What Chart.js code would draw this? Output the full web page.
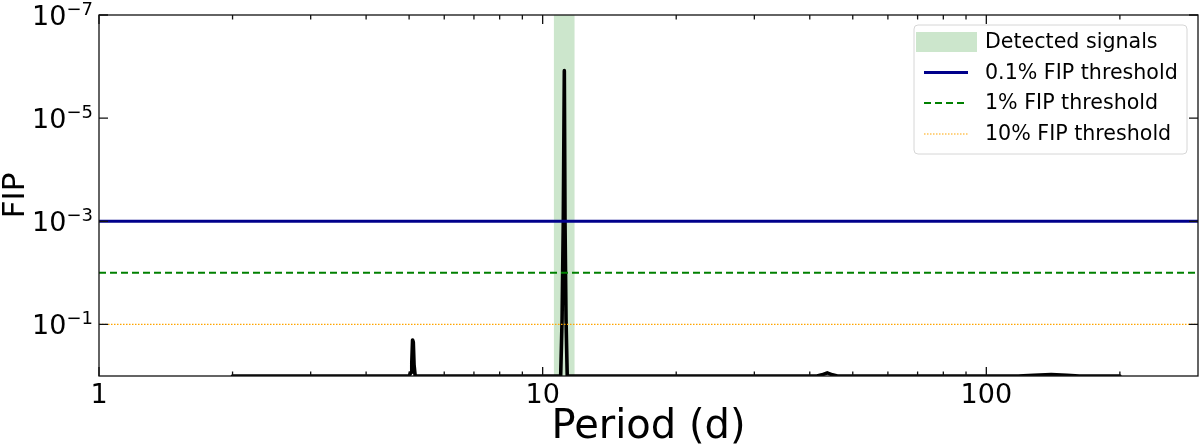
<!DOCTYPE html>
<html><head><meta charset="utf-8">
<script src="https://cdn.jsdelivr.net/npm/chart.js@4/dist/chart.umd.min.js"></script>
<style>html,body{margin:0;padding:0;background:#fff;}canvas{display:block;}</style>
</head><body>
<canvas id="c" width="1200" height="448"></canvas>
<script>
// ---- data ----
const periods   = [2.0, 5.00, 5.05, 5.07, 5.09, 5.11, 5.13, 5.16, 10.98, 11.06, 11.13, 11.19, 11.23, 11.29, 11.36, 41.5, 42.6, 43.8, 45.0, 46.2, 118, 128, 140, 152, 162, 200];
const fipValues = [1.0, 1.00, 0.85, 0.55, 0.20, 0.22, 0.60, 1.00, 1.00, 0.08, 1e-3, 1.2e-6, 1e-3, 0.08, 1.00, 1.00, 0.95, 0.87, 0.95, 1.00, 1.00, 0.97, 0.94, 0.97, 1.00, 1.00];
const thresholdFips   = [1e-3, 1e-2, 1e-1];
const thresholdLabels = ['0.1% FIP threshold', '1% FIP threshold', '10% FIP threshold'];
const detectedBand  = [10.6, 11.8];
const detectedLabel = 'Detected signals';
const xRange = [1, 300];
const yRange = [1e-7, 1];
const xMajorTicks = [1, 10, 100];
const xMinorTicks = [2, 3, 4, 5, 6, 7, 8, 9, 20, 30, 40, 50, 60, 70, 80, 90, 200];
const yMajorTicks = [1e-7, 1e-5, 1e-3, 1e-1];
const xTitle = 'Period (d)';
const yTitle = 'FIP';

// ---- styles ----
const thrStyles = [
  {color: '#00008B', width: 3,   dash: []},
  {color: '#008000', width: 2,   dash: [7, 4]},
  {color: '#FFA500', width: 1.2, dash: [1.5, 1.5]}
];
const FONT = "'DejaVu Sans', sans-serif";

const datasets = thresholdFips.map((f, i) => ({
  label: thresholdLabels[i],
  data: xRange.map(x => ({x: x, y: f})),
  borderColor: thrStyles[i].color,
  borderWidth: thrStyles[i].width,
  borderDash: thrStyles[i].dash,
  pointRadius: 0, fill: false
}));
datasets.push({
  label: 'FIP periodogram',
  data: periods.map((p, i) => ({x: p, y: fipValues[i]})),
  borderColor: '#000', borderWidth: 3.6,
  borderJoinStyle: 'round', borderCapStyle: 'round',
  pointRadius: 0, tension: 0, fill: false
});

const bandPlugin = {
  id: 'band',
  beforeDatasetsDraw(chart) {
    const {ctx, chartArea: a, scales: {x}} = chart;
    const x0 = x.getPixelForValue(detectedBand[0]);
    const x1 = x.getPixelForValue(detectedBand[1]);
    ctx.save();
    ctx.fillStyle = 'rgba(0,128,0,0.2)';
    ctx.fillRect(x0, a.top, x1 - x0, a.bottom - a.top);
    ctx.restore();
  }
};

const framePlugin = {
  id: 'frame',
  afterDatasetsDraw(chart) {
    const {ctx, chartArea: a, scales: {x, y}} = chart;
    ctx.save();
    ctx.strokeStyle = '#111';
    ctx.lineWidth = 1.3;
    ctx.strokeRect(a.left, a.top, a.right - a.left, a.bottom - a.top);
    ctx.beginPath();
    const xt = (v, len) => {
      const px = x.getPixelForValue(v);
      ctx.moveTo(px, a.bottom); ctx.lineTo(px, a.bottom - len);
      ctx.moveTo(px, a.top); ctx.lineTo(px, a.top + len);
    };
    xMajorTicks.forEach(v => xt(v, 9));
    xMinorTicks.forEach(v => xt(v, 4.5));
    yMajorTicks.forEach(v => {
      const py = y.getPixelForValue(v);
      ctx.moveTo(a.left, py); ctx.lineTo(a.left + 9, py);
      ctx.moveTo(a.right, py); ctx.lineTo(a.right - 9, py);
    });
    ctx.stroke();
    // y tick labels as 10 with a superscript exponent
    ctx.fillStyle = '#000';
    ctx.textBaseline = 'alphabetic';
    ctx.textAlign = 'left';
    yMajorTicks.forEach(v => {
      const py = y.getPixelForValue(v);
      const e = Math.round(Math.log10(v));
      const exp = (e < 0 ? '\u2212' : '') + Math.abs(e);
      ctx.font = '18px ' + FONT;
      const ew = ctx.measureText(exp).width;
      ctx.font = '27px ' + FONT;
      const bw = ctx.measureText('10').width;
      const right = a.left - 6;
      ctx.fillText('10', right - ew - bw, py + 10);
      ctx.font = '18px ' + FONT;
      ctx.fillText(exp, right - ew, py);
    });
    ctx.restore();
  }
};

const legendPlugin = {
  id: 'customLegend',
  afterDraw(chart) {
    const ctx = chart.ctx;
    const bx = 914, by = 25, bw = 273, bh = 129, r = 4;
    ctx.save();
    ctx.beginPath();
    ctx.moveTo(bx + r, by);
    ctx.arcTo(bx + bw, by, bx + bw, by + bh, r);
    ctx.arcTo(bx + bw, by + bh, bx, by + bh, r);
    ctx.arcTo(bx, by + bh, bx, by, r);
    ctx.arcTo(bx, by, bx + bw, by, r);
    ctx.closePath();
    ctx.fillStyle = 'rgba(255,255,255,0.8)';
    ctx.fill();
    ctx.strokeStyle = '#d6d6d6';
    ctx.lineWidth = 1;
    ctx.stroke();
    const rows = [42, 72.5, 103, 134];
    ctx.fillStyle = 'rgba(0,128,0,0.2)';
    ctx.fillRect(916, rows[0] - 10, 61, 20);
    thresholdFips.forEach((f, i) => {
      ctx.beginPath();
      ctx.strokeStyle = thrStyles[i].color;
      ctx.lineWidth = thrStyles[i].width;
      ctx.setLineDash(thrStyles[i].dash);
      ctx.moveTo(924, rows[i + 1]);
      ctx.lineTo(968, rows[i + 1]);
      ctx.stroke();
    });
    ctx.setLineDash([]);
    ctx.fillStyle = '#000';
    ctx.font = '20.6px ' + FONT;
    ctx.textBaseline = 'middle';
    ctx.textAlign = 'left';
    [detectedLabel].concat(thresholdLabels).forEach((t, i) => ctx.fillText(t, 985, rows[i] + 1));
    ctx.restore();
  }
};

new Chart(document.getElementById('c'), {
  type: 'line',
  data: {datasets},
  options: {
    responsive: false,
    animation: false,
    devicePixelRatio: 1,
    layout: {padding: {top: 15, right: 2, left: 0, bottom: 0}},
    plugins: {legend: {display: false}, tooltip: {enabled: false}},
    scales: {
      x: {
        type: 'logarithmic', min: xRange[0], max: xRange[1],
        grid: {display: false, drawTicks: false},
        border: {display: false},
        afterBuildTicks: s => { s.ticks = xMajorTicks.map(v => ({value: v})); },
        afterFit: s => { s.height = 72; },
        ticks: {autoSkip: false, maxRotation: 0, padding: 4, color: '#000',
                font: {family: FONT, size: 27}, callback: v => String(v)},
        title: {display: true, text: xTitle, color: '#000',
                font: {family: FONT, size: 40, lineHeight: 1}, padding: {top: 0, bottom: 0}}
      },
      y: {
        type: 'logarithmic', reverse: true, min: yRange[0], max: yRange[1],
        grid: {display: false, drawTicks: false},
        border: {display: false},
        afterBuildTicks: s => { s.ticks = yMajorTicks.map(v => ({value: v})); },
        afterFit: s => { s.width = 99; },
        ticks: {display: false},
        title: {display: true, text: yTitle, color: '#000',
                font: {family: FONT, size: 31, lineHeight: 1}, padding: {top: 0, bottom: 0}}
      }
    }
  },
  plugins: [bandPlugin, framePlugin, legendPlugin]
});
</script>
</body></html>
